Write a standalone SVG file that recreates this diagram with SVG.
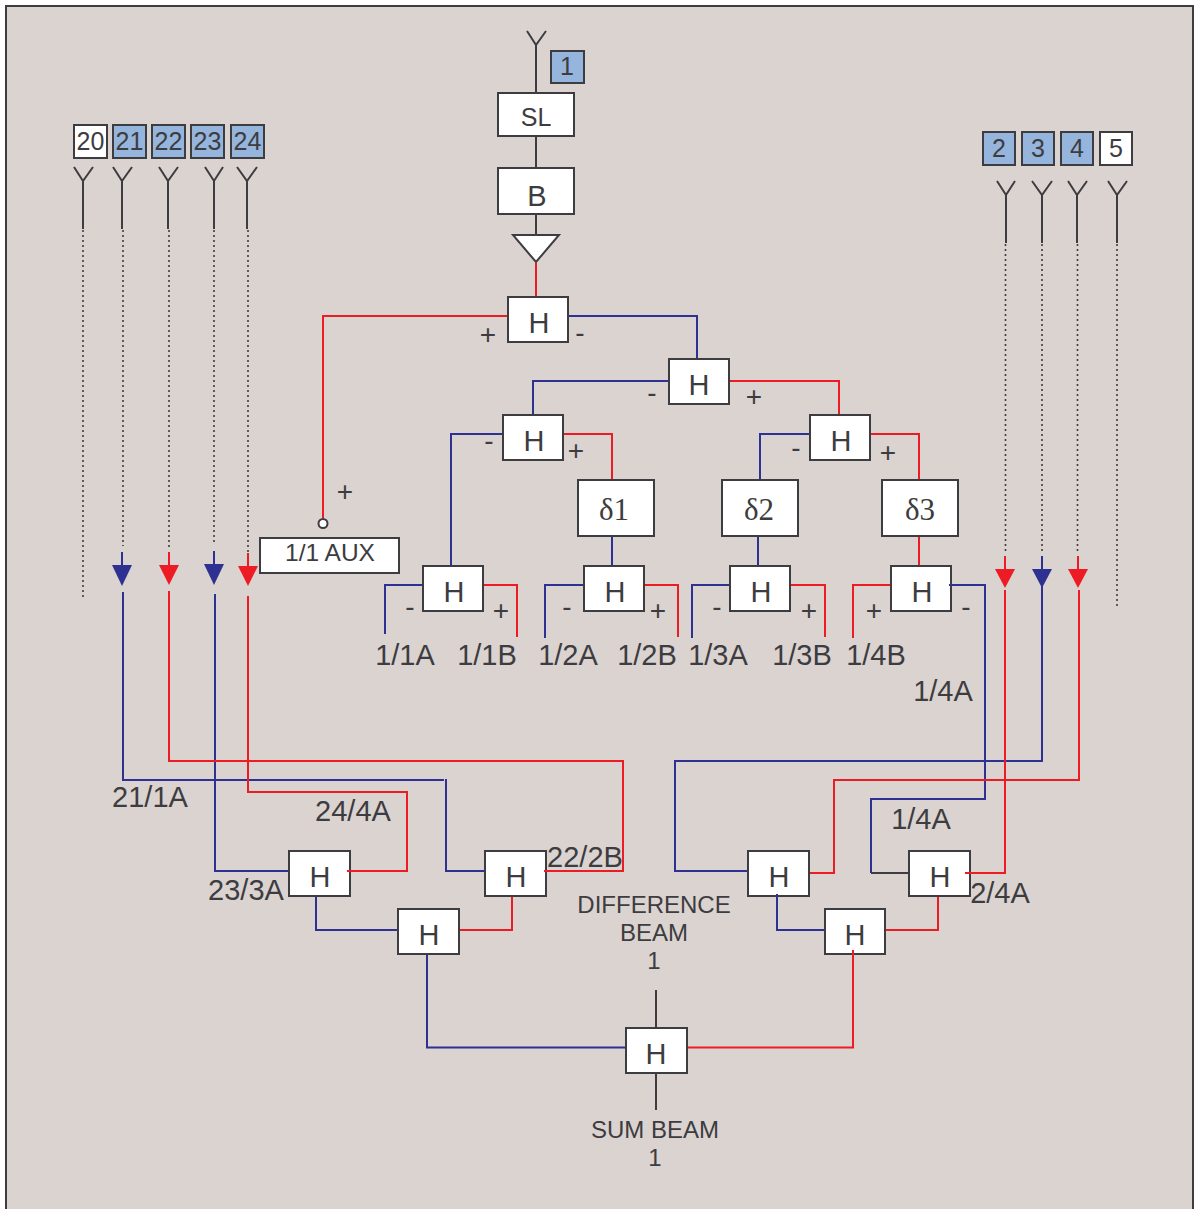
<svg xmlns="http://www.w3.org/2000/svg" width="1195" height="1209" viewBox="0 0 1195 1209">
<style>
text{font-family:"Liberation Sans",Arial,sans-serif;fill:#3d3c40;text-anchor:middle}
.t27{font-size:29px}.h{font-size:29px}.p{font-size:28px}.t24{font-size:24px}.t25{font-size:25px}
.box{fill:#fff;stroke:#3d3c40;stroke-width:2}
.num{stroke:#3d3c40;stroke-width:2}
.bl{fill:#95b5dd}.wh{fill:#fff}
.k,.r,.b,.d{fill:none;stroke-width:2}
.k{stroke:#3d3c40}.r{stroke:#ed1c24}.b{stroke:#2e3192}
.d{stroke:#3d3c40;stroke-dasharray:2 3;stroke-width:1.6}
.fr{fill:#ed1c24}.fb{fill:#2e3192}
</style>
<rect x="6" y="6" width="1187" height="1210" fill="#dbd3d0" stroke="#3d3c40" stroke-width="2"/>
<g id="connectors">
<path class="k" d="M527 31L536 45L546 31M536 45V93M536 136V168M536 214V236"/>
<path class="k" d="M74 167L83 181L93 167M83 181V229M113 167L122 181L132 167M122 181V229M159 167L168 181L178 167M168 181V229M205 167L214 181L223 167M214 181V229M237 167L247 181L257 167M247 181V229"/>
<path class="k" d="M997 181L1006 195L1015 181M1006 195V243M1032 181L1042 195L1052 181M1042 195V243M1068 181L1077 195L1087 181M1077 195V243M1108 181L1117 195L1127 181M1117 195V243"/>
<path class="d" d="M83 230V598M123 230V546M169 230V548M214 230V544M248 230V552M1005.500 244V551M1042 244V551M1077.500 244V551M1117 244V609"/>
<path class="r" d="M536 263V297M507 316H323V518M730 381H839V415M564 434H612V480M871 434H919V480M919 537V566"/>
<path class="b" d="M569 316H697V359M669 381H533V415M503 434H451V566M810 434H760V480M612 537V566M758 537V566"/>
<path class="b" d="M422 585H385V634M584 585H545V638M730 585H692V638M950 585H985V799H871V873"/>
<path class="r" d="M484 585H517V637M645 585H678V637M791 585H825V637M891 585H853V638"/>
<path class="b" d="M122 552V566M123 592V780H444M446 779V871H485M214 551V566M215 594V871H290M675 760V871H748M675 761H1042V556"/>
<path class="r" d="M169 552V566M169 591V761H623V871H544M248 553V568M248 596V792H407V871H348M1005 556V572M1005 590V873H965M1078 556V572M1079 590V780H834V873H808"/>
<path class="k" d="M871 873H910"/>
<path class="b" d="M316 896V930H398M777 895V930H825M427 954V1047.500H626"/>
<path class="r" d="M512 896V930H459M938 896V930H885M853 950V1047.500H687"/>
<path class="k" d="M656 990V1028M656 1073V1110"/>
<polygon class="fb" points="112,565 132,565 122,586"/>
<polygon class="fr" points="159,565 179,565 169,585"/>
<polygon class="fb" points="204,564 224,564 214,585"/>
<polygon class="fr" points="238,566 258,566 248,586"/>
<polygon class="fr" points="995,569 1015,569 1005,588"/>
<polygon class="fb" points="1032,569 1052,569 1042,588"/>
<polygon class="fr" points="1068,569 1088,569 1078,588"/>
<polygon points="513,235 559,235 536,262" fill="#fff" stroke="#3d3c40" stroke-width="2"/>
<circle cx="323" cy="523.500" r="4.500" fill="#fff" stroke="#3d3c40" stroke-width="2"/>
</g>
<g id="n1"><rect class="num bl" x="551" y="51" width="33" height="32"/><text class="t25" x="567" y="75">1</text></g>
<g id="n20"><rect class="num wh" x="74" y="125" width="33" height="33"/><text class="t25" x="90.500" y="150">20</text></g>
<g id="n21"><rect class="num bl" x="113" y="125" width="33" height="33"/><text class="t25" x="129.500" y="150">21</text></g>
<g id="n22"><rect class="num bl" x="152" y="125" width="33" height="33"/><text class="t25" x="168.500" y="150">22</text></g>
<g id="n23"><rect class="num bl" x="191" y="125" width="33" height="33"/><text class="t25" x="207.500" y="150">23</text></g>
<g id="n24"><rect class="num bl" x="231" y="125" width="33" height="33"/><text class="t25" x="247.500" y="150">24</text></g>
<g id="n2"><rect class="num bl" x="983" y="132" width="32" height="33"/><text class="t25" x="999" y="157">2</text></g>
<g id="n3"><rect class="num bl" x="1022" y="132" width="32" height="33"/><text class="t25" x="1038" y="157">3</text></g>
<g id="n4"><rect class="num bl" x="1061" y="132" width="32" height="33"/><text class="t25" x="1077" y="157">4</text></g>
<g id="n5"><rect class="num wh" x="1100" y="132" width="32" height="33"/><text class="t25" x="1116" y="157">5</text></g>
<g id="sl"><rect class="box" x="498" y="93" width="76" height="43"/><text class="t25" x="536" y="126">SL</text></g>
<g id="bnode"><rect class="box" x="498" y="168" width="76" height="46"/><text class="h" x="537" y="206">B</text></g>
<g id="h1"><rect class="box" x="508" y="297" width="60" height="45"/><text class="h" x="539" y="333">H</text></g>
<g id="h2"><rect class="box" x="669" y="359" width="60" height="45"/><text class="h" x="699" y="395">H</text></g>
<g id="h3"><rect class="box" x="503" y="415" width="60" height="45"/><text class="h" x="534" y="451">H</text></g>
<g id="h4"><rect class="box" x="810" y="415" width="60" height="45"/><text class="h" x="841" y="451">H</text></g>
<g id="d1"><rect class="box" x="578" y="480" width="76" height="56"/><text x="614" y="520" style="font-family:'Liberation Serif','DejaVu Serif',serif;font-size:31px">δ1</text></g>
<g id="d2"><rect class="box" x="722" y="480" width="76" height="56"/><text x="759" y="520" style="font-family:'Liberation Serif','DejaVu Serif',serif;font-size:31px">δ2</text></g>
<g id="d3"><rect class="box" x="882" y="480" width="76" height="56"/><text x="920" y="520" style="font-family:'Liberation Serif','DejaVu Serif',serif;font-size:31px">δ3</text></g>
<g id="aux"><rect class="box" x="260" y="538" width="139" height="35"/><text x="330" y="561" style="font-size:24.500px">1/1 AUX</text></g>
<g id="h5"><rect class="box" x="423" y="566" width="60" height="45"/><text class="h" x="454" y="602">H</text></g>
<g id="h6"><rect class="box" x="584" y="566" width="60" height="45"/><text class="h" x="615" y="602">H</text></g>
<g id="h7"><rect class="box" x="730" y="566" width="60" height="45"/><text class="h" x="761" y="602">H</text></g>
<g id="h8"><rect class="box" x="891" y="566" width="60" height="45"/><text class="h" x="922" y="602">H</text></g>
<g id="h9"><rect class="box" x="289" y="851" width="61" height="45"/><text class="h" x="320" y="887">H</text></g>
<g id="h10"><rect class="box" x="485" y="851" width="61" height="45"/><text class="h" x="516" y="887">H</text></g>
<g id="h11"><rect class="box" x="398" y="909" width="61" height="45"/><text class="h" x="429" y="945">H</text></g>
<g id="h12"><rect class="box" x="748" y="851" width="61" height="45"/><text class="h" x="779" y="887">H</text></g>
<g id="h13"><rect class="box" x="909" y="851" width="61" height="45"/><text class="h" x="940" y="887">H</text></g>
<g id="h14"><rect class="box" x="825" y="909" width="60" height="45"/><text class="h" x="855" y="945">H</text></g>
<g id="h15"><rect class="box" x="626" y="1028" width="61" height="45"/><text class="h" x="656" y="1064">H</text></g>
<path class="r" d="M347 871H362M544 871H556M965 873H978"/>
<path class="b" d="M949 585H962M777 897V894"/>
<path class="r" d="M853 950V958"/>
<g id="labels">
<text class="p" x="488" y="344">+</text><text class="p" x="580" y="342">-</text>
<text class="p" x="652" y="402">-</text><text class="p" x="754" y="406">+</text>
<text class="p" x="489" y="450">-</text><text class="p" x="576" y="460">+</text>
<text class="p" x="796" y="457">-</text><text class="p" x="888" y="462">+</text>
<text class="p" x="345" y="501">+</text>
<text class="p" x="410" y="616">-</text><text class="p" x="501" y="620">+</text>
<text class="p" x="567" y="616">-</text><text class="p" x="658" y="620">+</text>
<text class="p" x="717" y="616">-</text><text class="p" x="809" y="620">+</text>
<text class="p" x="874" y="620">+</text><text class="p" x="966" y="616">-</text>
<text class="t27" x="405" y="665">1/1A</text>
<text class="t27" x="487" y="665">1/1B</text>
<text class="t27" x="568" y="665">1/2A</text>
<text class="t27" x="647" y="665">1/2B</text>
<text class="t27" x="718" y="665">1/3A</text>
<text class="t27" x="802" y="665">1/3B</text>
<text class="t27" x="876" y="665">1/4B</text>
<text class="t27" x="943" y="701">1/4A</text>
<text class="t27" x="150" y="807">21/1A</text>
<text class="t27" x="353" y="821">24/4A</text>
<text class="t27" x="246" y="900">23/3A</text>
<text class="t27" x="585" y="867">22/2B</text>
<text class="t27" x="921" y="829">1/4A</text>
<text class="t27" x="1000" y="903">2/4A</text>
<text class="t24" x="654" y="913">DIFFERENCE</text>
<text class="t24" x="654" y="941">BEAM</text>
<text class="t24" x="654" y="969">1</text>
<text class="t24" x="655" y="1138">SUM BEAM</text>
<text class="t24" x="655" y="1166">1</text>
</g>
</svg>
